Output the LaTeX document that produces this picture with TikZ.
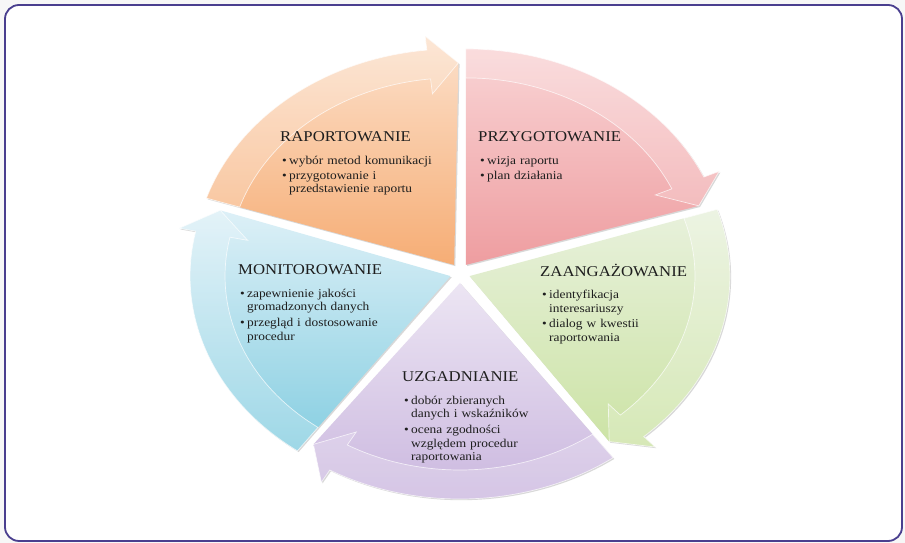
\documentclass[tikz,border=0pt]{standalone}
\usepackage{fontspec}
\usepackage{xcolor}
\usepackage{tikz}
\usetikzlibrary{positioning,shadows}
\newfontfamily\cyclefont{Liberation Serif}[FakeStretch=1.12]
\definecolor{framepurple}{HTML}{4A3F8F}
\definecolor{txtgray}{HTML}{1E1E1E}
\definecolor{orangetop}{HTML}{FCE1CC}
\definecolor{orangebot}{HTML}{F6AD75}
\definecolor{pinktop}{HTML}{F9D4D5}
\definecolor{pinkbot}{HTML}{EE9DA0}
\definecolor{greentop}{HTML}{E8F1DC}
\definecolor{greenbot}{HTML}{CCE3A5}
\definecolor{purpletop}{HTML}{ECE5F3}
\definecolor{purplebot}{HTML}{C9B5DE}
\definecolor{bluetop}{HTML}{DDF0F7}
\definecolor{bluebot}{HTML}{86CEE1}
% bullet item, continuation lines indented under the text
\newcommand{\bul}[1]{\par\noindent\makebox[7pt][l]{\textbullet}%
  \begin{tabular}[t]{@{}l@{}}#1\end{tabular}}
% one exploded segment of the cycle: start angle, end angle, top colour, bottom colour
\newcommand{\cycleseg}[4]{%
  \begin{scope}[shift={(460,270)}, shift={({(#1+#2)/2}:10)}, xscale=1.2056]
    \path[segfill, top color=#3, bottom color=#4]
      (0,0) -- (#1:216) arc[start angle=#1, end angle=#2+6, radius=216]
      -- (#2+6:230) -- (#2-1:202) -- cycle;
    \path[band]
      (#1:216) arc[start angle=#1, end angle=#2+6, radius=216]
      -- (#2+6:230) -- (#2-1:202) -- (#2+6:172) -- (#2+6:187)
      arc[start angle=#2+6, end angle=#1, radius=187] -- cycle;
  \end{scope}}

\begin{document}
\begin{tikzpicture}[
  x=1bp, y=1bp,
  segfill/.style={drop shadow={opacity=0.3, shadow xshift=1.2bp, shadow yshift=-1.2bp}},
  band/.style={fill=white, fill opacity=0.2, draw=white, draw opacity=0.7, line width=0.7bp},
  head/.style={anchor=west, inner sep=0pt, text=txtgray, font=\cyclefont\fontsize{15}{17}\selectfont},
  items/.style={inner sep=0pt, text width=170bp, align=left, text=txtgray,
    font=\cyclefont\fontsize{12}{13.5}\selectfont\setlength{\parskip}{1.5pt}}
]
\useasboundingbox (0,0) rectangle (905,543);
\fill[gray!6] (0,0) rectangle (905,543);
\draw[framepurple, line width=1.8bp, rounded corners=14bp, fill=white] (5,2) rectangle (902,538);

% segments, clockwise from the top
\cycleseg{162}{90}{orangetop}{orangebot}
\cycleseg{90}{18}{pinktop}{pinkbot}
\cycleseg{18}{-54}{greentop}{greenbot}
\cycleseg{-54}{-126}{purpletop}{purplebot}
\cycleseg{-126}{-198}{bluetop}{bluebot}

% labels
\node[head] (raportHead) at (280,406) {RAPORTOWANIE};
\node[items, below right=7pt and 2pt of raportHead.south west] (raportList)
  {\bul{wybór metod komunikacji}\bul{przygotowanie i\\przedstawienie raportu}};
\node[head] (przygHead) at (478,406) {PRZYGOTOWANIE};
\node[items, below right=7pt and 2pt of przygHead.south west] (przygList)
  {\bul{wizja raportu}\bul{plan działania}};
\node[head] (zaangHead) at (540,273) {ZAANGAŻOWANIE};
\node[items, below right=7pt and 2pt of zaangHead.south west] (zaangList)
  {\bul{identyfikacja\\interesariuszy}\bul{dialog w kwestii\\raportowania}};
\node[head] (monitHead) at (238,273) {MONITOROWANIE};
\node[items, below right=7pt and 2pt of monitHead.south west] (monitList)
  {\bul{zapewnienie jakości\\gromadzonych danych}\bul{przegląd i dostosowanie\\procedur}};
\node[head] (uzgHead) at (402,166) {UZGADNIANIE};
\node[items, below right=7pt and 2pt of uzgHead.south west] (uzgList)
  {\bul{dobór zbieranych\\danych i wskaźników}\bul{ocena zgodności\\względem procedur\\raportowania}};
\end{tikzpicture}
\end{document}
